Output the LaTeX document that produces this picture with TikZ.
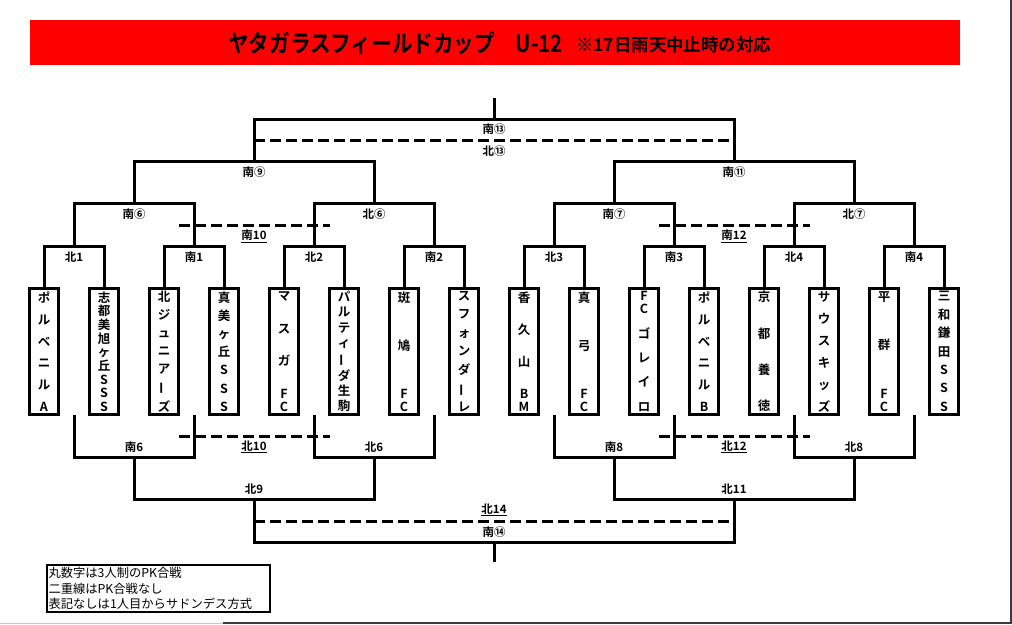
\documentclass[tikz,border=0pt]{standalone}
\usepackage{fontspec}
\setmainfont{Noto Sans CJK JP}[BoldFont={Noto Sans CJK JP Bold}]

\newcommand{\nx}{\par\vfill}
\newcommand{\nb}{\par}
\newcommand{\chou}{\rotatebox[origin=c]{90}{ー}}
\newcommand{\tate}[1]{\parbox[c][120pt][s]{22pt}{\centering\bfseries\fontsize{12.5}{13}\selectfont #1}}

\begin{document}
\begin{tikzpicture}[x=1pt, y=-1pt,
    team/.style={draw=black, line width=3pt, minimum width=29pt, minimum height=126pt, inner sep=0pt},
    bracket/.style={draw=black, line width=3pt},
    consol/.style={draw=black, line width=3pt, dash pattern=on 11pt off 5pt},
    matchlabel/.style={font=\bfseries\fontsize{11.5}{11.5}\selectfont, inner sep=0pt},
    ]
    \definecolor{bannerred}{HTML}{FF0000}
    \definecolor{frame_dark}{HTML}{3A3B3D}
    \definecolor{frame_light}{HTML}{C8C8C8}

    \useasboundingbox (0,0) rectangle (1012,624);

    \node[fill=bannerred, minimum width=930pt, minimum height=45pt, inner sep=0pt] (banner) at (495,42.5) {};
    \node[anchor=west, inner sep=0pt, font=\bfseries\fontsize{20}{20}\selectfont] (title) at (228,43)
        {\scalebox{1.03}[1.2]{ヤタガラスフィールドカップ　U-12}};
    \node[anchor=west, inner sep=0pt, font=\bfseries\fontsize{16}{16}\selectfont] (subtitle) at (576,45)
        {\scalebox{1.09}[1.1]{※17日雨天中止時の対応}};

    \foreach \tname [count=\i] in {
        ポ\nx ル\nx ベ\nx ニ\nx ル\nx A,
        志\nx 都\nx 美\nx 旭\nx ヶ\nx 丘\nx S\nx S\nx S,
        北\nx ジ\nx ュ\nx ニ\nx ア\nx \chou\nx ズ,
        真\nx 美\nx ヶ\nx 丘\nx S\nx S\nx S,
        マ\nx ス\nx ガ\nx F\nb C,
        パ\nx ル\nx テ\nx ィ\nx \chou\nx ダ\nx 生\nx 駒,
        斑\nx 鳩\nx F\nb C,
        ス\nx フ\nx ォ\nx ン\nx ダ\nx \chou\nx レ,
        香\nx 久\nx 山\nx B\nb M,
        真\nx 弓\nx F\nb C,
        F\nb C\nx ゴ\nx レ\nx イ\nx ロ,
        ポ\nx ル\nx ベ\nx ニ\nx ル\nx B,
        京\nx 都\nx 養\nx 徳,
        サ\nx ウ\nx ス\nx キ\nx ッ\nx ズ,
        平\nx 群\nx F\nb C,
        三\nx 和\nx 鎌\nx 田\nx S\nx S\nx S} {
        \node[team] (t\i) at ({44+60*(\i-1)},351.5) {\tate{\tname}};
    }

    \foreach \k [evaluate=\k as \lft using int(2*\k-1), evaluate=\k as \rgt using int(2*\k)] in {1,...,8} {
        \coordinate (r1_\k) at ({74+120*(\k-1)},246);
        \coordinate (lo1_\k) at ({74+120*(\k-1)},415);
        \path[bracket] (t\lft.north) |- (r1_\k) -| (t\rgt.north);
    }
    \foreach \j [evaluate=\j as \lft using int(2*\j-1), evaluate=\j as \rgt using int(2*\j)] in {1,...,4} {
        \coordinate (r2_\j) at ({134+240*(\j-1)},203);
        \coordinate (lo2_\j) at ({134+240*(\j-1)},457);
        \path[bracket] (r1_\lft) |- (r2_\j) -| (r1_\rgt);
        \path[bracket] (lo1_\lft) |- (lo2_\j) -| (lo1_\rgt);
    }
    \foreach \m [evaluate=\m as \lft using int(2*\m-1), evaluate=\m as \rgt using int(2*\m)] in {1,2} {
        \coordinate (r3_\m) at ({254+480*(\m-1)},161);
        \coordinate (lo3_\m) at ({254+480*(\m-1)},499);
        \path[bracket] (r2_\lft) |- (r3_\m) -| (r2_\rgt);
        \path[bracket] (lo2_\lft) |- (lo3_\m) -| (lo2_\rgt);
    }

    \coordinate (final_top) at (494,119);
    \coordinate (winner_top) at (494,98);
    \coordinate (final_bottom) at (494,542);
    \coordinate (winner_bottom) at (494,562);
    \path[bracket] (r3_1) |- (final_top) -| (r3_2);
    \path[bracket] (final_top) -- (winner_top);
    \path[bracket] (lo3_1) |- (final_bottom) -| (lo3_2);
    \path[bracket] (final_bottom) -- (winner_bottom);

    \coordinate (d13_left) at (254,140);
    \coordinate (d13_right) at (734,140);
    \coordinate (d14_left) at (254,521);
    \coordinate (d14_right) at (734,521);
    \coordinate (s10_left) at (179,225);
    \coordinate (s10_right) at (330,225);
    \coordinate (s12_left) at (659,225);
    \coordinate (s12_right) at (810,225);
    \coordinate (n10_left) at (179,436);
    \coordinate (n10_right) at (330,436);
    \coordinate (n12_left) at (659,436);
    \coordinate (n12_right) at (810,436);
    \path[consol] (d13_left) -- (d13_right);
    \path[consol] (d14_left) -- (d14_right);
    \path[consol] (s10_left) -- (s10_right);
    \path[consol] (s12_left) -- (s12_right);
    \path[consol] (n10_left) -- (n10_right);
    \path[consol] (n12_left) -- (n12_right);

    \foreach \lbl [count=\k] in {北1,南1,北2,南2,北3,南3,北4,南4} {
        \node[matchlabel] (lab1_\k) at ({74+120*(\k-1)},257) {\lbl};
    }
    \foreach \lbl [count=\j] in {南⑥,北⑥,南⑦,北⑦} {
        \node[matchlabel] (lab2_\j) at ({134+240*(\j-1)},214) {\lbl};
    }
    \foreach \lbl [count=\j] in {南6,北6,南8,北8} {
        \node[matchlabel] (lablo2_\j) at ({134+240*(\j-1)},447) {\lbl};
    }
    \node[matchlabel] (lab_s13) at (494,129) {南⑬};
    \node[matchlabel] (lab_n13) at (494,151) {北⑬};
    \node[matchlabel] (lab_s9) at (254,172) {南⑨};
    \node[matchlabel] (lab_s11) at (734,172) {南⑪};
    \node[matchlabel] (lab_s10) at (254,236) {\underline{南10}};
    \node[matchlabel] (lab_s12) at (734,236) {\underline{南12}};
    \node[matchlabel] (lab_n10) at (254,447) {\underline{北10}};
    \node[matchlabel] (lab_n12) at (734,447) {\underline{北12}};
    \node[matchlabel] (lab_n9) at (254,489) {北9};
    \node[matchlabel] (lab_n11) at (734,489) {北11};
    \node[matchlabel] (lab_n14) at (494,510) {\underline{北14}};
    \node[matchlabel] (lab_s14) at (494,532) {南⑭};

    \node[draw=black, line width=2pt, anchor=north west, minimum width=223pt, minimum height=47pt,
          text width=220pt, align=left, inner xsep=1.3pt, inner ysep=0pt,
          font=\fontsize{12.3}{15.5}\selectfont] (legend) at (46,564)
          {丸数字は3人制のPK合戦\\二重線はPK合戦なし\\表記なしは1人目からサドンデス方式};

    \fill[frame_dark] (1009.5,0) rectangle (1012,624);
    \fill[frame_dark] (223,622) rectangle (1012,624);
    \fill[frame_light] (0,622.5) rectangle (223,624);
\end{tikzpicture}
\end{document}
